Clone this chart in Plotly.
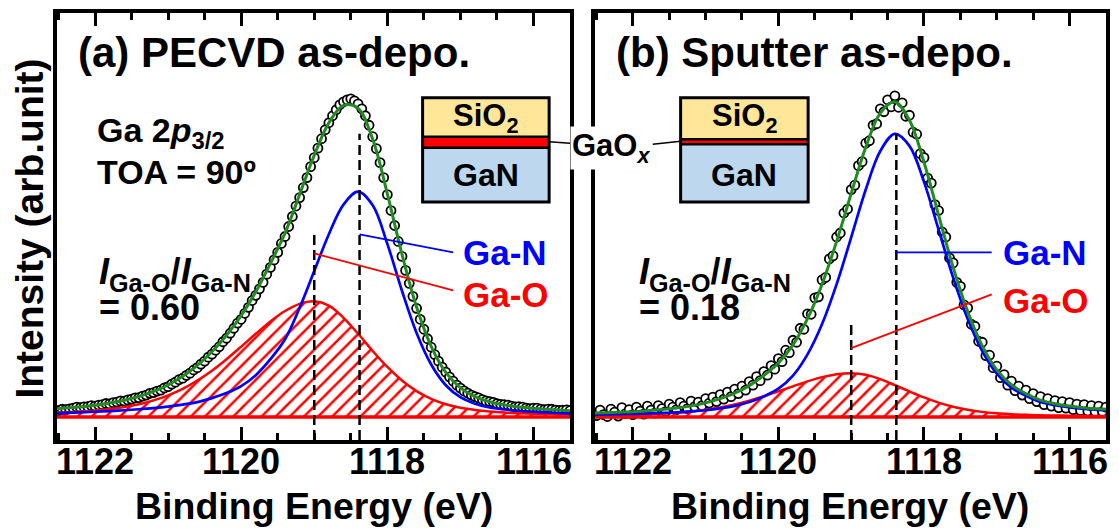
import plotly.graph_objects as go

# ---------------- data ----------------
# binding-energy grid of the fitted curves (eV)
E_FIT = [1122.6, 1122.4, 1122.2, 1122.0, 1121.8, 1121.6, 1121.4, 1121.2, 1121.0,
         1120.8, 1120.6, 1120.4, 1120.2, 1120.0, 1119.8, 1119.6, 1119.4, 1119.2,
         1119.0, 1118.8, 1118.6, 1118.4, 1118.2, 1118.0, 1117.8, 1117.6, 1117.4,
         1117.2, 1117.0, 1116.8, 1116.6, 1116.4, 1116.2, 1116.0, 1115.8, 1115.6,
         1115.4]

# (a) PECVD
BG_A = 2.3
GAN_A = [2.68, 2.72, 2.77, 2.83, 2.90, 2.98, 3.08, 3.20, 3.35, 3.55, 3.80, 4.20,
         4.70, 5.40, 6.50, 8.10, 10.10, 13.26, 16.94, 20.63, 23.59, 24.89, 23.52,
         19.66, 14.96, 10.73, 7.57, 5.49, 4.29, 3.64, 3.27, 3.07, 2.93, 2.84, 2.76,
         2.70, 2.65]
GAO_A = [2.72, 2.78, 2.86, 2.96, 3.11, 3.31, 3.58, 3.97, 4.48, 5.13, 5.97, 6.95,
         8.10, 9.36, 10.65, 11.89, 12.93, 13.65, 13.90, 13.46, 12.25, 10.65, 8.92,
         7.32, 5.97, 4.90, 4.12, 3.58, 3.23, 3.01, 2.86, 2.75, 2.68, 2.63, 2.60,
         2.57, 2.54]
SUM_A = [3.10, 3.20, 3.33, 3.49, 3.71, 3.99, 4.36, 4.87, 5.53, 6.38, 7.47, 8.85,
         10.50, 12.46, 14.85, 17.69, 20.73, 24.61, 28.54, 31.79, 33.54, 33.24, 30.14,
         24.68, 18.63, 13.33, 9.39, 6.77, 5.22, 4.35, 3.83, 3.52, 3.31, 3.17, 3.06,
         2.97, 2.89]

# (b) Sputter
BG_B = 2.3
GAN_B = [2.54, 2.56, 2.59, 2.62, 2.66, 2.71, 2.77, 2.86, 2.98, 3.18, 3.42, 3.80,
         4.37, 5.14, 6.45, 8.58, 11.62, 15.62, 20.31, 25.11, 28.97, 30.69, 29.48,
         25.87, 21.10, 16.27, 12.13, 8.92, 6.65, 5.25, 4.43, 3.81, 3.48, 3.27, 3.12,
         3.01, 2.92]
GAO_B = [2.44, 2.46, 2.49, 2.52, 2.57, 2.64, 2.74, 2.86, 3.04, 3.27, 3.57, 3.95,
         4.39, 4.87, 5.38, 5.88, 6.30, 6.59, 6.70, 6.54, 6.10, 5.50, 4.87, 4.27,
         3.75, 3.34, 3.04, 2.82, 2.68, 2.59, 2.52, 2.48, 2.45, 2.44, 2.42, 2.41, 2.40]
SUM_B = [2.68, 2.72, 2.78, 2.84, 2.93, 3.05, 3.21, 3.42, 3.72, 4.15, 4.69, 5.45,
         6.46, 7.71, 9.53, 12.16, 15.62, 19.91, 24.71, 29.35, 32.77, 33.89, 32.05,
         27.84, 22.55, 17.31, 12.87, 9.44, 7.03, 5.54, 4.65, 3.99, 3.63, 3.41, 3.24,
         3.12, 3.02]

# measured points (binding energy, eV)
E_DATA = [
    1122.50, 1122.45, 1122.40, 1122.35, 1122.30, 1122.25, 1122.20, 1122.15, 1122.10, 1122.05,
    1122.00, 1121.95, 1121.90, 1121.85, 1121.80, 1121.75, 1121.70, 1121.65, 1121.60, 1121.55,
    1121.50, 1121.45, 1121.40, 1121.35, 1121.30, 1121.25, 1121.20, 1121.15, 1121.10, 1121.05,
    1121.00, 1120.95, 1120.90, 1120.85, 1120.80, 1120.75, 1120.70, 1120.65, 1120.60, 1120.55,
    1120.50, 1120.45, 1120.40, 1120.35, 1120.30, 1120.25, 1120.20, 1120.15, 1120.10, 1120.05,
    1120.00, 1119.95, 1119.90, 1119.85, 1119.80, 1119.75, 1119.70, 1119.65, 1119.60, 1119.55,
    1119.50, 1119.45, 1119.40, 1119.35, 1119.30, 1119.25, 1119.20, 1119.15, 1119.10, 1119.05,
    1119.00, 1118.95, 1118.90, 1118.85, 1118.80, 1118.75, 1118.70, 1118.65, 1118.60, 1118.55,
    1118.50, 1118.45, 1118.40, 1118.35, 1118.30, 1118.25, 1118.20, 1118.15, 1118.10, 1118.05,
    1118.00, 1117.95, 1117.90, 1117.85, 1117.80, 1117.75, 1117.70, 1117.65, 1117.60, 1117.55,
    1117.50, 1117.45, 1117.40, 1117.35, 1117.30, 1117.25, 1117.20, 1117.15, 1117.10, 1117.05,
    1117.00, 1116.95, 1116.90, 1116.85, 1116.80, 1116.75, 1116.70, 1116.65, 1116.60, 1116.55,
    1116.50, 1116.45, 1116.40, 1116.35, 1116.30, 1116.25, 1116.20, 1116.15, 1116.10, 1116.05,
    1116.00, 1115.95, 1115.90, 1115.85, 1115.80, 1115.75, 1115.70, 1115.65, 1115.60, 1115.55,
    1115.50]
DATA_A = [
    2.95, 3.08, 3.05, 3.12, 3.20, 3.30, 3.25, 3.32, 3.35, 3.45,
    3.40, 3.50, 3.55, 3.66, 3.62, 3.74, 3.80, 3.92, 3.90, 4.02,
    4.10, 4.22, 4.25, 4.40, 4.50, 4.68, 4.75, 4.90, 5.00, 5.22,
    5.35, 5.60, 5.80, 6.05, 6.20, 6.48, 6.70, 7.02, 7.25, 7.60,
    7.90, 8.30, 8.60, 9.00, 9.35, 9.85, 10.2, 10.7, 11.2, 11.72,
    12.1, 12.7, 13.3, 13.98, 14.5, 15.15, 15.8, 16.62, 17.3, 18.05,
    18.8, 19.7, 20.4, 21.4, 22.4, 23.45, 24.3, 25.3, 26.3, 27.4,
    28.3, 29.25, 30.2, 31.1, 31.8, 32.5, 33.1, 33.6, 33.9, 34.1,
    34.2, 34.0, 33.7, 33.2, 32.5, 31.55, 30.4, 29.2, 27.8, 26.3,
    24.6, 23.0, 21.5, 19.9, 18.4, 17.0, 15.7, 14.4, 13.2, 12.1,
    11.1, 10.15, 9.3, 8.55, 7.9, 7.3, 6.8, 6.33, 5.9, 5.5,
    5.2, 4.92, 4.7, 4.5, 4.35, 4.22, 4.05, 3.92, 3.85, 3.78,
    3.65, 3.58, 3.55, 3.50, 3.40, 3.32, 3.35, 3.30, 3.20, 3.15,
    3.20, 3.20, 3.10, 3.05, 3.10, 3.08, 3.00, 2.96, 3.00, 3.02,
    2.95]
DATA_B = [
    2.45, 3.00, 2.55, 2.35, 3.10, 2.80, 2.40, 3.25, 2.65, 3.05,
    2.55, 3.30, 2.90, 2.60, 3.40, 3.00, 2.70, 3.45, 3.15, 2.85,
    3.60, 3.30, 3.05, 3.75, 3.40, 3.15, 3.90, 3.35, 3.80, 3.45,
    4.15, 3.70, 4.30, 3.85, 4.55, 4.10, 4.80, 4.35, 5.10, 4.65,
    5.40, 5.00, 5.85, 5.50, 6.35, 5.95, 6.85, 6.50, 7.45, 7.10,
    8.15, 7.85, 9.00, 8.75, 10.0, 9.80, 11.2, 11.1, 12.65, 12.6,
    14.25, 14.35, 16.05, 16.3, 18.15, 18.45, 20.35, 20.75, 22.75, 23.15,
    25.1, 25.55, 27.5, 27.9, 29.75, 30.0, 31.55, 31.7, 33.2, 32.9,
    34.1, 33.4, 34.5, 33.35, 33.8, 32.45, 32.55, 30.85, 30.65, 28.7,
    28.3, 26.25, 25.75, 23.6, 23.0, 20.85, 20.35, 18.25, 17.75, 15.8,
    15.4, 13.55, 13.25, 11.6, 11.4, 9.90, 9.80, 8.45, 8.50, 7.25,
    7.40, 6.25, 6.55, 5.50, 5.90, 4.95, 5.40, 4.50, 5.00, 4.15,
    4.65, 3.85, 4.35, 3.55, 4.15, 3.40, 3.95, 3.25, 3.85, 3.20,
    3.75, 3.05, 3.60, 2.95, 3.55, 2.90, 3.45, 2.85, 3.40, 2.85,
    3.30]

PEAK_GAN = 1118.38
PEAK_GAO = 1119.0
TICK_VALS = [1122, 1120, 1118, 1116]
TICK_TEXT = ["1122", "1120", "1118", "1116"]
X_RANGE = [1122.52, 1115.5]
Y_RANGE = [0, 42.8]

# ---------------- styling ----------------
FONT = "Liberation Sans, Arial, sans-serif"
W, H = 1119, 529
ML, MR, MT, MB = 57, 9, 12, 89
PW, PH = W - ML - MR, H - MT - MB


def px(x):
    return (x - ML) / PW


def py(y):
    return (H - MB - y) / PH


fig = go.Figure()


def add_panel(xa, ya, data, bg, gao, gan, tot):
    fig.add_trace(go.Scatter(x=E_DATA, y=data, mode="markers", xaxis=xa, yaxis=ya,
                             marker=dict(symbol="circle", size=9, color="white",
                                         line=dict(color="black", width=1.8)),
                             showlegend=False))
    fig.add_trace(go.Scatter(x=E_FIT, y=[bg] * len(E_FIT), mode="lines", xaxis=xa, yaxis=ya,
                             line=dict(color="#ff0000", width=3.5), showlegend=False))
    fig.add_trace(go.Scatter(x=E_FIT, y=gao, mode="lines", xaxis=xa, yaxis=ya,
                             line=dict(color="#ff0000", width=2.5, shape="spline"),
                             fill="tonexty", fillcolor="rgba(0,0,0,0)",
                             fillpattern=dict(shape="/", fgcolor="#ff0000", fgopacity=1,
                                              bgcolor="rgba(255,255,255,0)",
                                              size=10, solidity=0.25),
                             showlegend=False))
    fig.add_trace(go.Scatter(x=E_FIT, y=gan, mode="lines", xaxis=xa, yaxis=ya,
                             line=dict(color="#0000ff", width=2.7, shape="spline"),
                             showlegend=False))
    fig.add_trace(go.Scatter(x=E_FIT, y=tot, mode="lines", xaxis=xa, yaxis=ya,
                             line=dict(color="#218a21", width=3, shape="spline"),
                             showlegend=False))


add_panel("x", "y", DATA_A, BG_A, GAO_A, GAN_A, SUM_A)
add_panel("x2", "y2", DATA_B, BG_B, GAO_B, GAN_B, SUM_B)

xax = dict(range=X_RANGE, tickvals=TICK_VALS, ticktext=TICK_TEXT, ticks="inside",
           ticklen=13, tickwidth=3, tickcolor="black", showline=True, linewidth=3.5,
           linecolor="black", mirror="ticks", showgrid=False, zeroline=False,
           showticklabels=False,
           minor=dict(tick0=1116, dtick=0.5, ticks="inside", ticklen=7, tickwidth=2.5,
                      tickcolor="black", showgrid=False))
yax = dict(range=Y_RANGE, showticklabels=False, ticks="", showline=True, linewidth=3.5,
           linecolor="black", mirror=True, showgrid=False, zeroline=False)

fig.update_layout(
    width=W, height=H, margin=dict(l=ML, r=MR, t=MT, b=MB),
    paper_bgcolor="white", plot_bgcolor="white",
    font=dict(family=FONT, color="black"),
    xaxis=dict(xax, domain=[0, px(572)], anchor="y"),
    yaxis=dict(yax, domain=[0, 1], anchor="x"),
    xaxis2=dict(xax, domain=[px(597), 1], anchor="y2"),
    yaxis2=dict(yax, domain=[0, 1], anchor="x2"),
)

# ---- vertical dashed lines at the component peak positions
DASH = "10px,5px"
for xr, yr, top_gan, top_gao in [("x", "y", 30.7, 21.0), ("x2", "y2", 30.7, 11.7)]:
    fig.add_shape(type="line", xref=xr, yref=yr, x0=PEAK_GAN, x1=PEAK_GAN, y0=0, y1=top_gan,
                  line=dict(color="black", width=2.5, dash=DASH))
    fig.add_shape(type="line", xref=xr, yref=yr, x0=PEAK_GAO, x1=PEAK_GAO, y0=0, y1=top_gao,
                  line=dict(color="black", width=2.5, dash=DASH))

# ---- pointer lines to labels
fig.add_shape(type="line", xref="x", yref="y", x0=PEAK_GAN, y0=20.6, x1=1117.1, y1=18.8,
              line=dict(color="#0000ff", width=1.8))
fig.add_shape(type="line", xref="x", yref="y", x0=PEAK_GAO, y0=18.7, x1=1117.1, y1=15.0,
              line=dict(color="#ff0000", width=1.8))
fig.add_shape(type="line", xref="x2", yref="y2", x0=PEAK_GAN, y0=18.8, x1=1117.07, y1=18.8,
              line=dict(color="#0000ff", width=1.8))
fig.add_shape(type="line", xref="x2", yref="y2", x0=PEAK_GAO, y0=9.2, x1=1117.07, y1=14.6,
              line=dict(color="#ff0000", width=1.8))


def ann(text, x, y, size, color="black", xanchor="left", yanchor="middle", xref="paper", **kw):
    fig.add_annotation(text=text, x=px(x) if xref == "paper" else x, y=py(y),
                       xref=xref, yref="paper",
                       showarrow=False, xanchor=xanchor, yanchor=yanchor,
                       font=dict(family=FONT, size=size, color=color, weight="bold"), **kw)


# tick labels (placed on the axes' own scales)
for xr in ("x", "x2"):
    for v, t in zip(TICK_VALS, TICK_TEXT):
        ann(t, v, 462, 36, xanchor="center", xref=xr)

# labels for components
ann("Ga-N", 463, 252, 35, "#0000ff")
ann("Ga-O", 463, 294, 35, "#ff0000")
ann("Ga-N", 1005, 252, 35, "#0000ff")
ann("Ga-O", 1005, 300, 35, "#ff0000")

# panel titles
ann("(a) PECVD as-depo.", 76, 52, 42)
ann("(b) Sputter as-depo.", 616, 52, 42)

# panel a texts
ann("Ga 2<i>p</i><sub>3/2</sub>", 95, 132, 34)
ann("TOA = 90º", 95, 171, 34)
ann("<i>I</i><sub>Ga-O</sub>/<i>I</i><sub>Ga-N</sub>", 97, 274, 36)
ann("= 0.60", 97, 307, 36)
# panel b texts
ann("<i>I</i><sub>Ga-O</sub>/<i>I</i><sub>Ga-N</sub>", 639, 274, 36)
ann("= 0.18", 639, 307, 36)

# axis titles
ann("Binding Energy (eV)", 314.5, 506, 37.5, xanchor="center")
ann("Binding Energy (eV)", 853.5, 506, 37.5, xanchor="center")
ann("Intensity (arb.unit)", 29, 228, 39, xanchor="center", textangle=-90)

# ---- inset stacks (SiO2 / GaOx / GaN)
def rect(x0, y0, x1, y1, fill, lw=0):
    fig.add_shape(type="rect", xref="paper", yref="paper", x0=px(x0), x1=px(x1),
                  y0=py(y1), y1=py(y0), fillcolor=fill,
                  line=dict(color="black", width=lw))


for (x0, x1, r0, r1) in [(424, 551, 136, 147), (683, 811, 138.5, 143.5)]:
    rect(x0, 97, x1, r0, "#ffe699")
    rect(x0, r0, x1, r1, "#ff0000")
    rect(x0, r1, x1, 201.5, "#bdd7ee")
    fig.add_shape(type="line", xref="paper", yref="paper", x0=px(x0), x1=px(x1),
                  y0=py(r0), y1=py(r0), line=dict(color="black", width=2.5))
    fig.add_shape(type="line", xref="paper", yref="paper", x0=px(x0), x1=px(x1),
                  y0=py(r1), y1=py(r1), line=dict(color="black", width=2.5))
    rect(x0, 97, x1, 201.5, "rgba(0,0,0,0)", lw=3)
    ann("SiO<sub>2</sub>", (x0 + x1) / 2, 117, 31, xanchor="center")
    ann("GaN", (x0 + x1) / 2, 174, 32, xanchor="center")

fig.add_shape(type="line", xref="paper", yref="paper", x0=px(551), y0=py(141),
              x1=px(572), y1=py(142.5), line=dict(color="black", width=1.5))
fig.add_shape(type="line", xref="paper", yref="paper", x0=px(655), y0=py(143.5),
              x1=px(683), y1=py(140.5), line=dict(color="black", width=1.5))
ann("GaO<sub><i>x</i></sub>", 613, 147, 31, xanchor="center", bgcolor="white", borderpad=1)

fig.write_html("out.html")
